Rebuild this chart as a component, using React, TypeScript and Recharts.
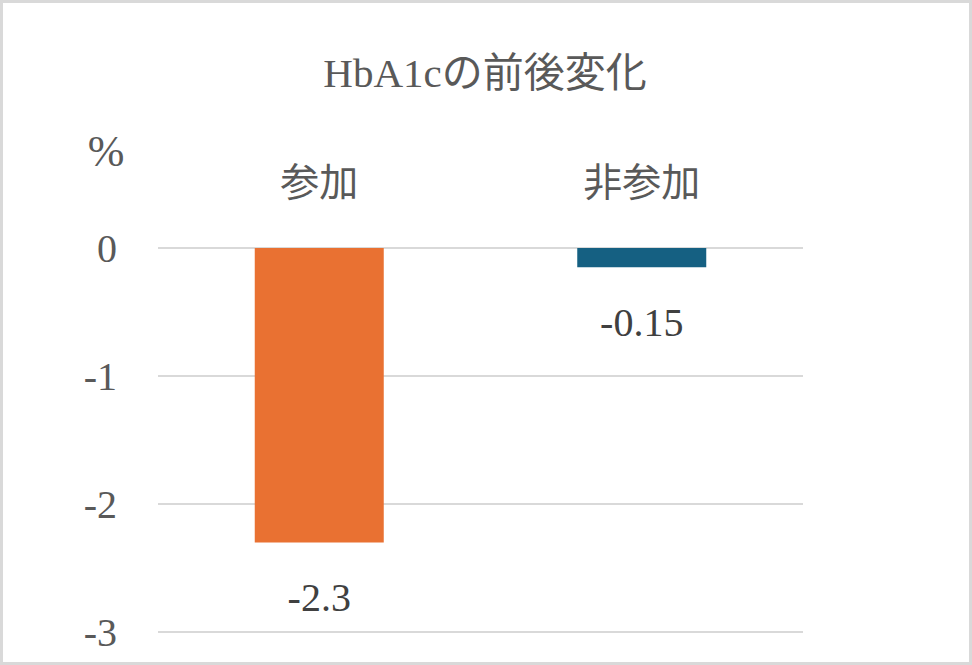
import React from 'react';
import { BarChart, Bar, XAxis, YAxis, CartesianGrid, Cell, LabelList } from 'recharts';

const categories = ['参加', '非参加'];
const changes = [-2.3, -0.15];
const barColors = ['#E97132', '#156082'];
const yTicks = [-3, -2, -1, 0];

const data = categories.map((name, i) => ({ name, value: changes[i] }));

const FONT = '"Liberation Serif", "Noto Sans CJK JP", serif';

// value label under the end of each (negative) bar
const ValueLabel = (props: any) => {
  const vb = props.viewBox ?? props;
  const { x, y, width, height } = vb;
  const bottom = Math.max(y, y + height);
  return (
    <text
      x={x + width / 2}
      y={bottom + 69}
      textAnchor="middle"
      fill="#404040"
      fontSize={40}
      fontFamily={FONT}
    >
      {props.value}
    </text>
  );
};

const App: React.FC = () => {
  return (
    <div style={{ position: 'relative', width: 972, height: 665, background: '#fff' }}>
      <style>{'body{margin:0}'}</style>
      <BarChart
        width={972}
        height={665}
        data={data}
        margin={{ top: 148, right: 169, bottom: 33, left: 0 }}
        barCategoryGap="30%"
      >
        <CartesianGrid vertical={false} stroke="#d9d9d9" strokeWidth={2} />
        <XAxis
          dataKey="name"
          orientation="top"
          height={100}
          axisLine={false}
          tickLine={false}
          tickSize={0}
          tickMargin={52}
          tick={{ fill: '#595959', fontSize: 39, fontFamily: FONT }}
        />
        <YAxis
          width={158}
          domain={[-3, 0]}
          ticks={yTicks}
          interval={0}
          axisLine={false}
          tickLine={false}
          tickSize={0}
          tickMargin={41}
          tick={{ fill: '#595959', fontSize: 40, fontFamily: FONT }}
        />
        <Bar dataKey="value" isAnimationActive={false}>
          {data.map((d, i) => (
            <Cell key={d.name} fill={barColors[i]} />
          ))}
          <LabelList dataKey="value" content={<ValueLabel />} />
        </Bar>
      </BarChart>
      <svg
        width={972}
        height={665}
        style={{ position: 'absolute', left: 0, top: 0, pointerEvents: 'none' }}
      >
        <text x={485} y={87} textAnchor="middle" fill="#595959" fontSize={41} fontFamily={FONT}>
          HbA1cの前後変化
        </text>
        <text x={106} y={166} textAnchor="middle" fill="#595959" fontSize={44} fontFamily={FONT}>
          %
        </text>
        <rect x={1.5} y={1.5} width={969} height={662} fill="none" stroke="#d9d9d9" strokeWidth={3} />
      </svg>
    </div>
  );
};

export default App;
